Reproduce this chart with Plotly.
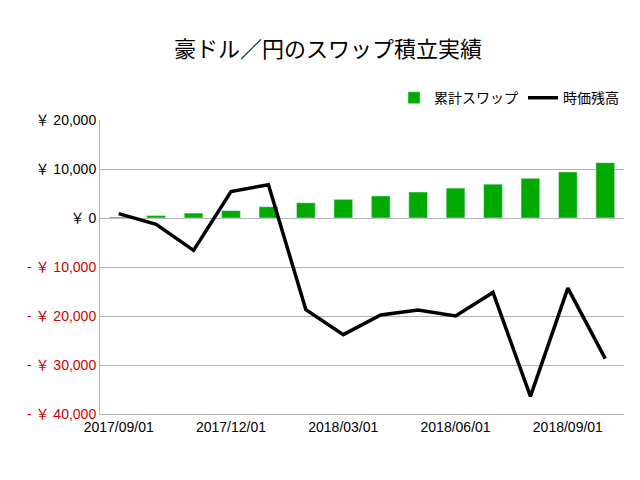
import plotly.graph_objects as go

months = ["2017/09/01", "2017/10/01", "2017/11/01", "2017/12/01", "2018/01/01", "2018/02/01",
          "2018/03/01", "2018/04/01", "2018/05/01", "2018/06/01", "2018/07/01", "2018/08/01",
          "2018/09/01", "2018/10/01"]
swap_total = [200, 500, 1000, 1500, 2300, 3100, 3800, 4500, 5300, 6100, 6900, 8100, 9400, 11300]
market_value = [900, -1300, -6600, 5400, 6800, -18700, -23800, -19800, -18800, -20000,
                -15200, -36400, -14300, -28700]
y_ticks = [20000, 10000, 0, -10000, -20000, -30000, -40000]


def yen_label(v):
    if v < 0:
        return "<span style='color:#cc0000'>- ￥ {:,}</span>".format(-v)
    if v == 0:
        return "￥ 0"
    return "￥ {:,}".format(v)


fig = go.Figure()
fig.add_trace(go.Bar(x=months, y=swap_total, name="累計スワップ",
                     marker_color="#00aa00", width=0.5))
fig.add_trace(go.Scatter(x=months, y=market_value, name="時価残高", mode="lines",
                         line=dict(color="black", width=3.5)))

fig.update_layout(
    width=640, height=480,
    paper_bgcolor="white", plot_bgcolor="white",
    font=dict(family="Liberation Sans, Noto Sans CJK JP", size=14, color="black"),
    title=dict(text="豪ドル／円のスワップ積立実績", x=0.5, y=0.93, xanchor="center",
               font=dict(size=22, family="Noto Sans CJK JP")),
    margin=dict(l=92, r=24, t=112, b=74),
    legend=dict(orientation="h", x=1, xanchor="right", y=1.02, yanchor="bottom",
                font=dict(size=14, family="Noto Sans CJK JP")),
    showlegend=True,
)
fig.update_xaxes(type="category", range=[-0.5, 13.5],
                 tickvals=months[::3], ticktext=months[::3],
                 showgrid=False, showline=True, linecolor="#b3b3b3", ticks="")
fig.update_yaxes(range=[-40000, 20000], tickvals=y_ticks,
                 ticktext=[yen_label(v) for v in y_ticks],
                 showgrid=True, gridcolor="#b3b3b3", zeroline=False,
                 showline=True, linecolor="#b3b3b3")

fig.write_html("out.html")
